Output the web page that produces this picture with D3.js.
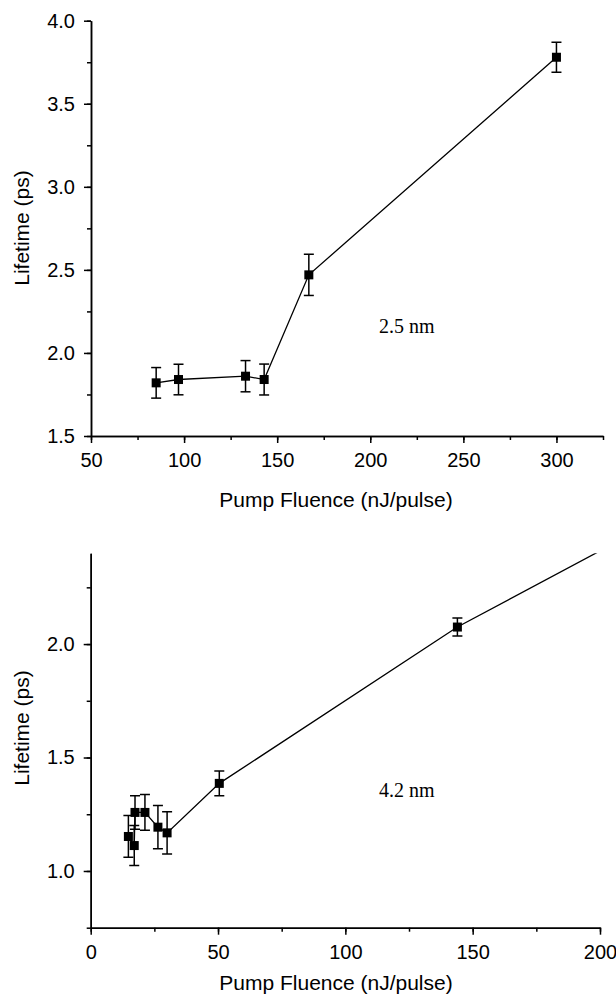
<!DOCTYPE html>
<html>
<head>
<meta charset="utf-8">
<script src="https://cdn.jsdelivr.net/npm/d3@7"></script>
<style>
  body { margin: 0; background: #fff; }
  svg { display: block; }
  .axis path, .axis line { stroke: #000; stroke-width: 1.5; }
  .axis text { font-family: "Liberation Sans", Arial, sans-serif; font-size: 20px; fill: #000; }
  .title { font-family: "Liberation Sans", Arial, sans-serif; font-size: 21px; fill: #000; }
  .note { font-family: "Liberation Serif", "Times New Roman", serif; font-size: 20px; fill: #000; }
</style>
</head>
<body>
<script>
const w = 616;
const h = 996;

// 2.5 nm panel
const fluenceA = [85, 97, 133, 143, 167, 300];
const lifetimeA = [1.82, 1.84, 1.86, 1.84, 2.47, 3.78];
const errA = [0.092, 0.092, 0.094, 0.093, 0.124, 0.09];
const xTicksA = [50, 100, 150, 200, 250, 300];
const yTicksA = [1.5, 2.0, 2.5, 3.0, 3.5, 4.0];

// 4.2 nm panel (last point lies past the plotted range)
const fluenceB = [14.8, 17.1, 17.4, 21.3, 26.4, 30.0, 50.5, 144, 250];
const lifetimeB = [1.152, 1.112, 1.258, 1.258, 1.193, 1.168, 1.386, 2.075, 2.71];
const errB = [0.092, 0.088, 0.074, 0.079, 0.095, 0.093, 0.055, 0.04, 0];
const xTicksB = [0, 50, 100, 150, 200];
const yTicksB = [1.0, 1.5, 2.0];

const svg = d3.select('body').append('svg').attr('width', w).attr('height', h);

function panel(o) {
  const xScale = d3.scaleLinear().domain(o.xDomain).range([o.left, o.right]);
  const yScale = d3.scaleLinear().domain(o.yDomain).range([o.bottom, o.top]);
  const g = svg.append('g');

  // minor ticks
  const xMinor = d3.range(o.xDomain[0], o.xDomain[1] + 0.001, o.xStep / 2);
  const yMinor = d3.range(o.yDomain[0], o.yDomain[1] + 0.001, o.yStep / 2);

  g.append('g')
    .attr('class', 'axis')
    .attr('transform', 'translate(0,' + o.bottom + ')')
    .call(d3.axisBottom(xScale).tickValues(xMinor).tickSize(4).tickFormat('').tickSizeOuter(0));
  g.append('g')
    .attr('class', 'axis')
    .attr('transform', 'translate(0,' + o.bottom + ')')
    .call(d3.axisBottom(xScale).tickValues(o.xTicks).tickSize(7).tickPadding(10)
      .tickFormat(d3.format('d')).tickSizeOuter(0));

  g.append('g')
    .attr('class', 'axis')
    .attr('transform', 'translate(' + o.left + ',0)')
    .call(d3.axisLeft(yScale).tickValues(yMinor.filter(v => v >= o.yDomain[0])).tickSize(4).tickFormat('').tickSizeOuter(0));
  g.append('g')
    .attr('class', 'axis')
    .attr('transform', 'translate(' + o.left + ',0)')
    .call(d3.axisLeft(yScale).tickValues(o.yTicks).tickSize(7).tickPadding(9)
      .tickFormat(d3.format('.1f')).tickSizeOuter(0));

  // clip so line runs out of the frame like the original
  const clipId = 'clip' + o.id;
  svg.append('clipPath').attr('id', clipId)
    .append('rect')
    .attr('x', o.left).attr('y', o.top)
    .attr('width', o.right - o.left).attr('height', o.bottom - o.top);

  const pts = o.xs.map((x, i) => ({ x: x, y: o.ys[i], e: o.es[i] }));
  const plot = g.append('g').attr('clip-path', 'url(#' + clipId + ')');

  plot.append('path')
    .datum(pts)
    .attr('fill', 'none')
    .attr('stroke', '#000')
    .attr('stroke-width', 1.3)
    .attr('d', d3.line().x(d => xScale(d.x)).y(d => yScale(d.y)));

  const bars = plot.selectAll('.err')
    .data(pts.filter(d => d.e > 0))
    .enter().append('g').attr('class', 'err');
  bars.append('line')
    .attr('x1', d => xScale(d.x)).attr('x2', d => xScale(d.x))
    .attr('y1', d => yScale(d.y - d.e)).attr('y2', d => yScale(d.y + d.e))
    .attr('stroke', '#000').attr('stroke-width', 1.5);
  [-1, 1].forEach(s => {
    bars.append('line')
      .attr('x1', d => xScale(d.x) - 5).attr('x2', d => xScale(d.x) + 5)
      .attr('y1', d => yScale(d.y + s * d.e)).attr('y2', d => yScale(d.y + s * d.e))
      .attr('stroke', '#000').attr('stroke-width', 1.5);
  });

  plot.selectAll('.pt')
    .data(pts)
    .enter().append('rect')
    .attr('class', 'pt')
    .attr('x', d => xScale(d.x) - 4.5)
    .attr('y', d => yScale(d.y) - 4.5)
    .attr('width', 9).attr('height', 9)
    .attr('fill', '#000');

  g.append('text').attr('class', 'title')
    .attr('x', 336).attr('y', o.xTitleY)
    .attr('text-anchor', 'middle')
    .text('Pump Fluence (nJ/pulse)');

  g.append('text').attr('class', 'title')
    .attr('transform', 'translate(29,' + o.yTitleY + ') rotate(-90)')
    .attr('text-anchor', 'middle')
    .text('Lifetime (ps)');

  g.append('text').attr('class', 'note')
    .attr('x', 379).attr('y', o.noteY)
    .text(o.note);
}

panel({
  id: 'a', xs: fluenceA, ys: lifetimeA, es: errA,
  xDomain: [50, 325], yDomain: [1.5, 4.0], xStep: 50, yStep: 0.5,
  xTicks: xTicksA, yTicks: yTicksA,
  left: 91, right: 603, top: 20.7, bottom: 436,
  xTitleY: 507, yTitleY: 228, noteY: 333, note: '2.5 nm'
});

panel({
  id: 'b', xs: fluenceB, ys: lifetimeB, es: errB,
  xDomain: [0, 200], yDomain: [0.75, 2.4], xStep: 50, yStep: 0.5,
  xTicks: xTicksB, yTicks: yTicksB,
  left: 90.7, right: 600, top: 553.3, bottom: 927.7,
  xTitleY: 990, yTitleY: 728, noteY: 797, note: '4.2 nm'
});
</script>
</body>
</html>
